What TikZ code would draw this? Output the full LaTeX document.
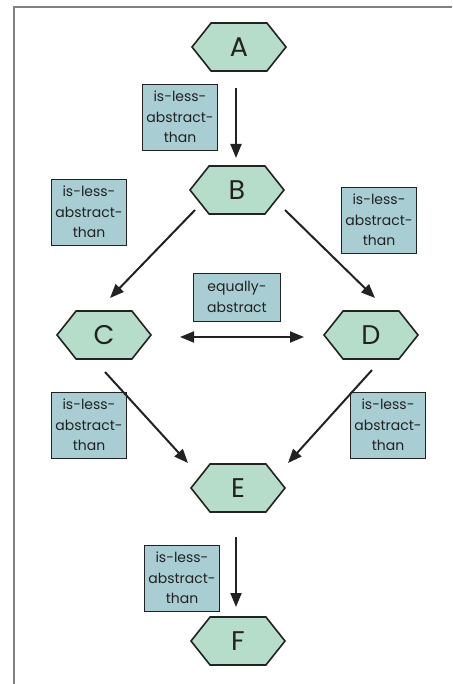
\documentclass[tikz,border=0pt]{standalone}
\usepackage{fontspec}
\setmainfont{Poppins}
\usetikzlibrary{shapes.symbols,arrows.meta}
\definecolor{hexfill}{HTML}{B6DDC9}
\definecolor{labfill}{HTML}{A8CED4}
\definecolor{ink}{HTML}{222222}
\begin{document}
\begin{tikzpicture}[x=1pt,y=-1pt,
 hexnode/.style={signal, signal to=west and east, signal pointer angle=103, draw=ink, line width=1.6pt, fill=hexfill, minimum width=94pt, minimum height=48pt, inner sep=0pt, text=ink, font=\fontsize{27}{27}\selectfont},
 relbox/.style={draw=ink, line width=0.9pt, fill=labfill, align=center, inner sep=0pt, minimum width=75pt, minimum height=66pt, text=ink, font=\fontsize{14}{20.5}\selectfont},
 arr/.style={-{Triangle[length=14pt,width=11pt]}, line width=2pt, draw=ink},
 darr/.style={{Triangle[length=14pt,width=11pt]}-{Triangle[length=14pt,width=11pt]}, line width=2pt, draw=ink},
]
\useasboundingbox (0,0) rectangle (452,684);
\draw[gray, line width=2pt] (14,684) -- (14,7) -- (452,7);

\node[hexnode] (A) at (239,47) {A};
\node[hexnode] (B) at (237,190) {B};
\node[hexnode] (C) at (104,335) {C};
\node[hexnode] (D) at (371,335) {D};
\node[hexnode] (E) at (238,488) {E};
\node[hexnode] (F) at (238,641) {F};

\node[relbox] (l1) at (180,117) {is-less-\\abstract-\\than};
\node[relbox] (l2) at (89,212) {is-less-\\abstract-\\than};
\node[relbox] (l3) at (379,220) {is-less-\\abstract-\\than};
\node[relbox, minimum width=87pt, minimum height=48pt] (eq) at (237,297) {equally-\\abstract};
\node[relbox] (l4) at (89,425) {is-less-\\abstract-\\than};
\node[relbox] (l5) at (388,425) {is-less-\\abstract-\\than};
\node[relbox] (l6) at (182,578) {is-less-\\abstract-\\than};

\draw[arr] ([shift={(-3,41)}]A.center) -- ([shift={(-1,-32)}]B.center);
\draw[arr] ([shift={(-42,20)}]B.center) -- ([shift={(6,-37)}]C.center);
\draw[arr] ([shift={(48,20)}]B.center) -- ([shift={(4,-37)}]D.center);
\draw[darr] ([shift={(76,2)}]C.center) -- ([shift={(-67,2)}]D.center);
\draw[arr] ([shift={(1,37)}]C.center) -- ([shift={(-50,-25)}]E.center);
\draw[arr] ([shift={(1,35)}]D.center) -- ([shift={(50,-25)}]E.center);
\draw[arr] ([shift={(-2,49)}]E.center) -- ([shift={(-2,-34)}]F.center);
\end{tikzpicture}
\end{document}
